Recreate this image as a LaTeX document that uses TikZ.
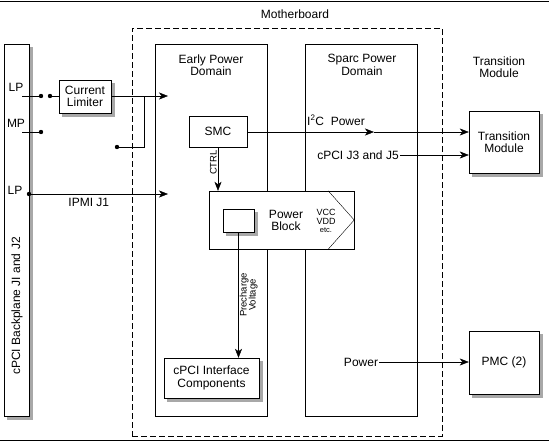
\documentclass[tikz,border=0pt]{standalone}
\usepackage{fontspec}
\setmainfont{Liberation Sans}
\usetikzlibrary{arrows.meta,positioning}
\definecolor{shadowgray}{HTML}{A8A8A8}
\pgfdeclarelayer{back}
\pgfdeclarelayer{shade}
\pgfsetlayers{back,shade,main}

\begin{document}
\begin{tikzpicture}[x=1pt, y=-1pt, line width=1pt,
    >={Stealth[length=9pt,width=7pt,inset=2.5pt]},
    font=\fontsize{12}{12.5}\selectfont,
    box/.style={draw, fill=white, inner sep=0pt, align=center},
    small/.style={font=\fontsize{9.5}{9.5}\selectfont, inner sep=1pt, align=center}]

        \useasboundingbox (0,0) rectangle (549,442);
        \draw[line width=1.5pt] (0,1.5) -- (549,1.5);
        \draw[line width=1.5pt] (0,440.5) -- (549,440.5);

        % Frames
        \begin{pgfonlayer}{back}
            \node (mboard) [draw, dash pattern=on 6pt off 3pt, minimum width=310pt, minimum height=408pt] at (287,232) {};
            \node (early) [box, minimum width=112pt, minimum height=372pt] at (211,230) {};
            \node (sparc) [box, minimum width=112pt, minimum height=372pt] at (361,230) {};
            \node (pblock) [box, minimum width=145pt, minimum height=58pt] at (281.5,220) {};
        \end{pgfonlayer}
        \node (mblabel) at (295,14) {Motherboard};
        \node (earlylabel) [align=center] at (211,65) {Early Power\\Domain};
        \node (sparclabel) [align=center] at (362,65) {Sparc Power\\Domain};
        \node (tmlabel) [align=center] at (499,67) {Transition\\Module};

        % Nodes
        \node (backplane) [box, minimum width=25pt, minimum height=372pt] at (16.5,230) {};
        \node (bptext) [rotate=90] at (17,306) {cPCI Backplane JI and J2};
        \node (lp1) at (16,87) {LP};
        \node (mp) at (16,123) {MP};
        \node (lp2) at (15,190) {LP};
        \node (limiter) [box, minimum width=52pt, minimum height=33pt] at (85,96.5) {Current\\Limiter};
        \node (smc) [box, minimum width=58pt, minimum height=31pt] at (218,131.5) {SMC};
        \node (inner) [box, minimum width=31pt, minimum height=23pt] at (238.5,220.5) {};
        \node (pbtext) [align=center] at (286,220.5) {Power\\Block};
        \node (volts) [align=center, inner sep=0pt, font=\fontsize{9}{8.5}\selectfont] at (326,221) {VCC\\VDD\\{\fontsize{7.5}{8.5}\selectfont etc.}};
        \draw ([xshift=-26pt]pblock.north east) -- (pblock.east) -- ([xshift=-26pt]pblock.south east);
        \node (iface) [box, minimum width=95pt, minimum height=40pt] at (211.5,378) {cPCI Interface\\Components};
        \node (tm) [box, minimum width=70pt, minimum height=62pt] at (504,142) {Transition\\Module};
        \node (pmc) [box, minimum width=70pt, minimum height=63pt] at (504,362.5) {PMC (2)};
        \node (i2c) [anchor=base west, inner sep=0pt] at (307,125) {I\textsuperscript{2}C\ \ Power};
        \node (j35) [inner sep=1pt] at (358,155) {cPCI J3 and J5};
        \node (pwr) [inner sep=1pt] at (361,362) {Power};

        % Shadows
        \begin{pgfonlayer}{shade}
            \foreach \n in {backplane, limiter, inner, iface, tm, pmc} {
                \fill[shadowgray] ([shift={(3.5,3.5)}]\n.north west) rectangle ([shift={(3.5,3.5)}]\n.south east);
            }
        \end{pgfonlayer}

        % Points
        \coordinate (lpA) at (22,96);
        \coordinate (jA) at (41,96);
        \coordinate (jB) at (50,96);
        \coordinate (mpA) at (22,132);
        \coordinate (jC) at (41,132);
        \coordinate (br) at (144,96);
        \coordinate (jD) at (117,147);
        \coordinate (lpB) at (29,194);
        \coordinate (epIn) at (168,96);
        \coordinate (ipmiEnd) at (168,194);
        \coordinate (i2cMid) at (374,132);

        % Arrows
        \draw (lpA) -- (jA);
        \draw (jB) -- (limiter.west |- jB);
        \draw (mpA) -- (jC);
        \draw[->] (limiter.east |- epIn) -- (epIn);
        \draw (br) |- (jD);
        \draw[->] (lpB) -- (ipmiEnd) node[pos=.43, below=1pt] {IPMI J1};
        \draw[->] (smc.south) -- (smc.south |- pblock.north) node[pos=.35, rotate=90, anchor=south, small] {CTRL};
        \draw[->] (inner.south) -- (inner.south |- iface.north) node[midway, rotate=90, anchor=north, small, font=\fontsize{9.5}{9}\selectfont] {Precharge\\Voltage};
        \draw[->] (smc.east |- i2cMid) -- (i2cMid);
        \draw[->] (i2cMid) -- (i2cMid -| tm.west);
        \draw[->] (j35.east) -- (j35.east -| tm.west);
        \draw[->] (pwr.east) -- (pwr.east -| pmc.west);
        \foreach \p in {jA, jB, jC, jD, lpB} {
            \fill (\p) circle (2.2pt);
        }

    \end{tikzpicture}
\end{document}
